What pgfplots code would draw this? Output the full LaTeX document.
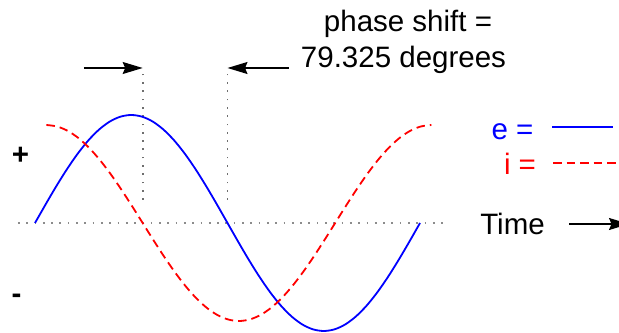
\documentclass[border=0pt]{standalone}
\usepackage{pgfplots}
\pgfplotsset{compat=1.18}
\usepackage{fontspec}
\setmainfont{Liberation Sans}
\usetikzlibrary{arrows.meta}
\definecolor{eblue}{RGB}{0,0,255}
\definecolor{ired}{RGB}{255,0,0}
\definecolor{zgray}{RGB}{140,140,140}
\definecolor{vgray}{RGB}{110,110,110}
\begin{document}
\begin{tikzpicture}[every node/.style={font=\fontsize{29.5bp}{34bp}\selectfont, inner sep=0pt}]
\useasboundingbox (0bp,0bp) rectangle (619bp,333bp);
\begin{axis}[at={(0bp,0bp)}, anchor=south west,
  width=619bp, height=333bp, scale only axis, hide axis, clip=false,
  xmin=-32.727, xmax=546.08, ymin=-110, ymax=223]
% zero line
\addplot[zgray, line width=1.7bp, dash pattern=on 1.7bp off 6.6bp] coordinates {(-15.9,0) (383.4,0)};
% phase markers
\addplot[vgray, line width=1.7bp, dash pattern=on 1.7bp off 6.6bp] coordinates {(100.675,23) (100.675,155)};
\addplot[vgray, line width=1.7bp, dash pattern=on 1.7bp off 6.6bp] coordinates {(180,23) (180,155)};
% e (voltage)
\addplot[eblue, line width=1.8bp, smooth] coordinates {
(0,0) (10,18.75) (20,36.94) (30,54.00) (40,69.42) (50,82.73) (60,93.53) (70,101.49) (80,106.36) (90,108)
(100,106.36) (110,101.49) (120,93.53) (130,82.73) (140,69.42) (150,54.00) (160,36.94) (170,18.75) (180,0)
(190,-18.75) (200,-36.94) (210,-54.00) (220,-69.42) (230,-82.73) (240,-93.53) (250,-101.49) (260,-106.36) (270,-108)
(280,-106.36) (290,-101.49) (300,-93.53) (310,-82.73) (320,-69.42) (330,-54.00) (340,-36.94) (350,-18.75) (360,0)};
% i (current)
\addplot[ired, line width=1.8bp, smooth, dash pattern=on 8.5bp off 5bp] coordinates {
(10.675,98) (20.675,96.51) (30.675,92.09) (40.675,84.87) (50.675,75.07) (60.675,62.99) (70.675,49.00) (80.675,33.52) (90.675,17.02)
(100.675,0) (110.675,-17.02) (120.675,-33.52) (130.675,-49.00) (140.675,-62.99) (150.675,-75.07) (160.675,-84.87) (170.675,-92.09) (180.675,-96.51)
(190.675,-98) (200.675,-96.51) (210.675,-92.09) (220.675,-84.87) (230.675,-75.07) (240.675,-62.99) (250.675,-49.00) (260.675,-33.52) (270.675,-17.02)
(280.675,0) (290.675,17.02) (300.675,33.52) (310.675,49.00) (320.675,62.99) (330.675,75.07) (340.675,84.87) (350.675,92.09) (360.675,96.51) (370.675,98)};
% arrows
\draw[line width=1.3bp, -{Stealth[length=20bp,width=12bp,inset=2.5bp]}] (axis cs:45.8,155) -- (axis cs:100.675,155);
\draw[line width=1.3bp, -{Stealth[length=20bp,width=12bp,inset=2.5bp]}] (axis cs:237.5,155) -- (axis cs:180,155);
\end{axis}
\node[anchor=base] at (408bp,301bp) {phase shift =};
\node[anchor=base] at (403.5bp,265bp) {79.325 degrees};
\node[anchor=base, text=eblue] at (512.5bp,193bp) {e =};
\draw[eblue, line width=1.8bp] (552bp,206bp) -- (613bp,206bp);
\node[anchor=base, text=ired] at (520bp,158bp) {i =};
\draw[ired, line width=1.8bp, dash pattern=on 8.5bp off 5bp] (553bp,170bp) -- (622bp,170bp);
\node[anchor=base] at (512.5bp,98bp) {Time};
\draw[line width=1.3bp, -{Stealth[length=20bp,width=12bp,inset=2.5bp]}] (569bp,109bp) -- (629bp,109bp);
\node[font=\fontsize{29.5bp}{34bp}\bfseries] at (20.5bp,177bp) {+};
\node[font=\fontsize{29.5bp}{34bp}\bfseries] at (16.5bp,34bp) {-};
\end{tikzpicture}
\end{document}
